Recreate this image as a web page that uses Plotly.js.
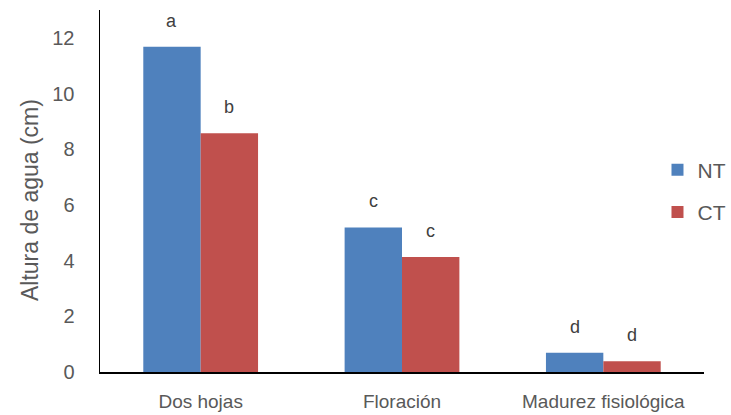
<!DOCTYPE html>
<html><head><meta charset="utf-8">
<script src="https://cdn.plot.ly/plotly-3.0.1.min.js"></script>
<style>html,body{margin:0;padding:0;background:#fff}</style>
</head><body>
<div id="chart" style="width:731px;height:415px"></div>
<script>
const categories = ["Dos hojas", "Floración", "Madurez fisiológica"];
const ntValues = [11.68, 5.19, 0.69];
const ctValues = [8.57, 4.13, 0.39];
const ntLetters = ["a", "c", "d"];
const ctLetters = ["b", "c", "d"];
const yTicks = [0, 2, 4, 6, 8, 10, 12];

const grey = "#595959";
const font = "Liberation Sans, Arial, sans-serif";

const traces = [
  {type: "bar", name: "NT", x: categories, y: ntValues, marker: {color: "#4f81bd"}, legendgroup: "a", hoverinfo: "none"},
  {type: "bar", name: "CT", x: categories, y: ctValues, marker: {color: "#c0504d"}, legendgroup: "b", hoverinfo: "none"}
];

const plotW = 604;
const bargap = 0.43;
const barPx = plotW / categories.length * (1 - bargap) / 2;
const annotations = [];
categories.forEach((c, i) => {
  annotations.push({x: c, y: ntValues[i], text: ntLetters[i], showarrow: false, xshift: -barPx / 2, yshift: 26, font: {size: 18, color: "#404040", family: font}});
  annotations.push({x: c, y: ctValues[i], text: ctLetters[i], showarrow: false, xshift: barPx / 2, yshift: 26, font: {size: 18, color: "#404040", family: font}});
});
annotations.push({xref: "paper", yref: "paper", x: -70 / plotW, y: 0.475, xanchor: "center", yanchor: "middle", textangle: -90,
  text: "Altura de agua (cm)", showarrow: false, font: {size: 23, color: grey, family: font}});

const layout = {
  width: 731, height: 415,
  margin: {l: 100, r: 27, t: 10, b: 43, autoexpand: false},
  paper_bgcolor: "#fff", plot_bgcolor: "#fff",
  barmode: "group", bargap: bargap, bargroupgap: 0,
  font: {family: font, color: grey},
  xaxis: {showline: true, linecolor: "#000", linewidth: 1.5, ticks: "", tickfont: {size: 19, color: grey}, showgrid: false, zeroline: false,
    ticklabelstandoff: 12},
  yaxis: {range: [0, 13], tickvals: yTicks, showline: true, linecolor: "#000", linewidth: 1.5, ticks: "", showgrid: false, zeroline: false,
    tickfont: {size: 20, color: grey}, ticklabelstandoff: 20},
  showlegend: true,
  legend: {x: 0.923, xanchor: "left", y: 0.5, yanchor: "middle", font: {size: 21, color: grey}, tracegroupgap: 12, traceorder: "grouped", bgcolor: "rgba(0,0,0,0)"},
  annotations: annotations
};

Plotly.newPlot("chart", traces, layout, {displayModeBar: false, staticPlot: true});
</script>
</body></html>
